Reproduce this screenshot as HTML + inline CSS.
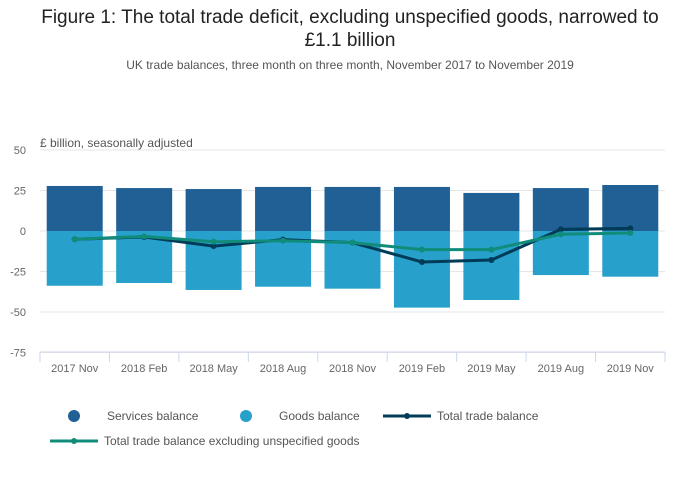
<!DOCTYPE html>
<html><head><meta charset="utf-8"><style>
body{margin:0;background:#fff;font-family:"Liberation Sans",sans-serif;}
#wrap{position:relative;width:700px;height:502px;overflow:hidden;}
.t{position:absolute;left:0;width:700px;text-align:center;}
</style></head><body>
<div id="wrap">
<div class="t" style="top:6px;font-size:19px;color:#222;line-height:23px;">Figure 1: The total trade deficit, excluding unspecified goods, narrowed to<br>£1.1 billion</div>
<div class="t" style="top:58px;font-size:12px;color:#555;">UK trade balances, three month on three month, November 2017 to November 2019</div>
<svg id="c" width="700" height="502" style="position:absolute;left:0;top:0"></svg>
</div>
<script>
const categories=["2017 Nov","2018 Feb","2018 May","2018 Aug","2018 Nov","2019 Feb","2019 May","2019 Aug","2019 Nov"];
const services=[27.8,26.5,25.9,27.2,27.2,27.2,23.5,26.5,28.4];
const goods=[-33.8,-32.1,-36.4,-34.4,-35.6,-47.3,-42.6,-27.2,-28.2];
const total=[-5.1,-3.7,-9.3,-5.3,-7.2,-19.1,-17.9,1.0,1.6];
const totalExcl=[-5.1,-3.3,-6.6,-6.0,-7.2,-11.5,-11.5,-2.0,-1.2];
const yTicks=[50,25,0,-25,-50,-75];
const svg=document.getElementById('c');const NS='http://www.w3.org/2000/svg';
function mk(t,a,p){const e=document.createElementNS(NS,t);for(const k in a)e.setAttribute(k,a[k]);(p||svg).appendChild(e);return e;}
const x0=40,x1=665,step=(x1-x0)/categories.length;
const y=v=>231-v*1.62;const xc=i=>x0+step*(i+0.5);
yTicks.forEach(v=>{const g=mk('line',{x1:40,x2:665,y1:y(v),y2:y(v),stroke:'#e6e6e6'});

const t=mk('text',{x:26,y:y(v)+4,'text-anchor':'end','font-size':11,fill:'#666'});t.textContent=v;
});
const yl=mk('text',{x:40,y:147,'font-size':12,fill:'#555'});yl.textContent='£ billion, seasonally adjusted';

mk('line',{x1:40,x2:665,y1:352,y2:352,stroke:'#ccd6eb'});
categories.forEach((c,i)=>{
mk('line',{x1:x0+step*i,x2:x0+step*i,y1:352,y2:362,stroke:'#ccd6eb'});
const bw=56;
const s=mk('rect',{x:xc(i)-bw/2,y:y(services[i]),width:bw,height:y(0)-y(services[i]),fill:'#206095'});

const g=mk('rect',{x:xc(i)-bw/2,y:y(0),width:bw,height:y(goods[i])-y(0),fill:'#27a0cc'});

const t=mk('text',{x:xc(i),y:372,'text-anchor':'middle','font-size':11,fill:'#666'});t.textContent=c;
});
mk('line',{x1:665,x2:665,y1:352,y2:362,stroke:'#ccd6eb'});
function line(d,col,name){const p=mk('polyline',{points:d.map((v,i)=>xc(i)+','+y(v)).join(' '),fill:'none',stroke:col,'stroke-width':3});

d.forEach((v,i)=>{const c=mk('circle',{cx:xc(i),cy:y(v),r:3,fill:col});});}
line(total,'#003c57','total-trade-line');line(totalExcl,'#118c7b','total-excl-line');
function leg(x,yy,type,col,label,name){const g=mk('g',{});
if(type==='dot')mk('circle',{cx:x,cy:yy,r:6,fill:col},g);else{mk('line',{x1:x-24,x2:x+24,y1:yy,y2:yy,stroke:col,'stroke-width':3},g);mk('circle',{cx:x,cy:yy,r:3,fill:col},g);}
const t=mk('text',{x:type==='dot'?x+33:x+30,y:yy+4,'font-size':12,fill:'#555'},g);t.textContent=label;}
leg(74,416,'dot','#206095','Services balance','legend-services');
leg(246,416,'dot','#27a0cc','Goods balance','legend-goods');
leg(407,416,'line','#003c57','Total trade balance','legend-total');
leg(74,441,'line','#118c7b','Total trade balance excluding unspecified goods','legend-total-excl');
</script></body></html>
